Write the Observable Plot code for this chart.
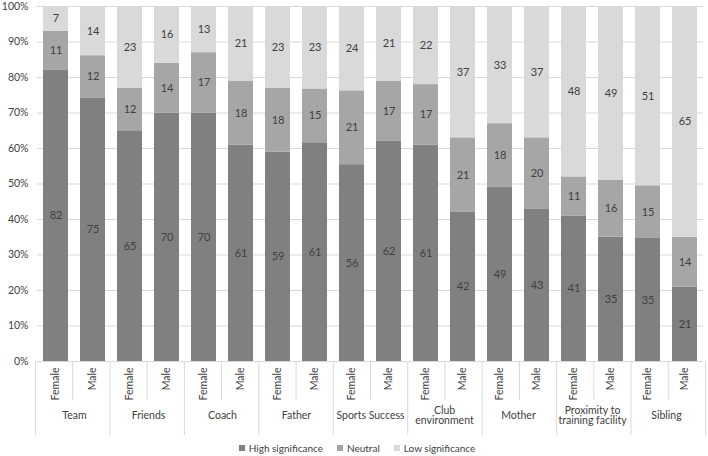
<!DOCTYPE html>
<html><head><meta charset="utf-8">
<script src="https://cdn.jsdelivr.net/npm/d3@7"></script>
<script src="https://cdn.jsdelivr.net/npm/@observablehq/plot@0.6"></script>
<style>
body{margin:0;background:#fff;font-family:Lato,"Open Sans",sans-serif;}
#legend{display:flex;justify-content:center;gap:14px;font-size:10px;color:#404040;height:16px;line-height:16px;padding-left:6px}
#legend span.item{display:inline-flex;align-items:center}
.sw{display:inline-block;width:6px;height:6px;margin-right:4px}
</style></head><body><div id="chart"></div><div id="legend"></div>
<script>
const categories = ["Team","Friends","Coach","Father","Sports Success","Club environment","Mother","Proximity to training facility","Sibling"];
const categoryTicks = ["Team","Friends","Coach","Father","Sports Success","Club\nenvironment","Mother","Proximity to\ntraining facility","Sibling"];
const sexes = ["Female","Male"];
const levels = ["High significance","Neutral","Low significance"];
const colors = ["#808080","#a6a6a6","#d9d9d9"];
// per bar: Team F, Team M, Friends F, Friends M, ...
const high    = [82,75,65,70,70,61,59,61,56,62,61,42,49,43,41,35,35,21];
const neutral = [11,12,12,14,17,18,18,15,21,17,17,21,18,20,11,16,15,14];
const low     = [7,14,23,16,13,21,23,23,24,21,22,37,33,37,48,49,51,65];

const rows = [];
categories.forEach((c,i)=>sexes.forEach((s,j)=>{
  const k=i*2+j;
  [high,neutral,low].forEach((arr,l)=>rows.push({cat:c,sex:s,level:levels[l],value:arr[k]}));
}));

const W=708,H=440,ML=35,MR=3,MT=6,MB=79;
const stack = o => Plot.stackY({offset:"normalize", x:"sex", y:"value", z:"level", fx:"cat", ...o});
const plot = Plot.plot({
  width:W,height:H,marginLeft:ML,marginRight:MR,marginTop:MT,marginBottom:MB,
  style:{fontFamily:"Lato, 'Open Sans', sans-serif", fontSize:"10.5px", color:"#404040", background:"#fff"},
  fx:{domain:categories,padding:0,axis:null,label:null},
  x:{domain:sexes,paddingInner:0.33,paddingOuter:0.165,axis:null,label:null},
  y:{domain:[0,1],axis:null,label:null},
  color:{domain:levels,range:colors},
  marks:[
    Plot.gridY({ticks:10, stroke:"#d9d9d9", strokeOpacity:1}),
    Plot.axisY({ticks:10,tickSize:0,tickFormat:d3.format(".0%"),tickPadding:9,label:null,fontSize:10.5}),
    Plot.barY(rows, stack({fill:"level"})),
    Plot.text(rows, stack({text:"value", fill:"#404040", fontSize:11})),
    Plot.axisX({anchor:"bottom", tickRotate:-90, tickSize:0, tickPadding:6, label:null}),
    Plot.text(categories, {fx:d=>d, text:(d,i)=>categoryTicks[i], frameAnchor:"bottom", dy:54, lineAnchor:"middle", fill:"#404040"})
  ]
});
document.getElementById("chart").appendChild(plot);

// multi-level axis separators, positioned from the fx band scale
const fxs = d3.scaleBand().domain(categories).range([ML, W-MR]).padding(0);
const y0 = H - MB;
const g = d3.select(plot).append("g").attr("stroke","#d9d9d9").attr("stroke-width",1);
const edges = categories.map(c=>fxs(c)).concat([fxs(categories[categories.length-1])+fxs.bandwidth()]);
edges.forEach(x=>g.append("line").attr("x1",x+0.5).attr("x2",x+0.5).attr("y1",y0).attr("y2",y0+74));
categories.forEach(c=>{const x=fxs(c)+fxs.bandwidth()/2; g.append("line").attr("x1",x+0.5).attr("x2",x+0.5).attr("y1",y0).attr("y2",y0+39);});

const leg = d3.select("#legend");
levels.forEach((l,i)=>{
  const it = leg.append("span").attr("class","item");
  it.append("span").attr("class","sw").style("background",colors[i]);
  it.append("span").text(l);
});
</script>
</body></html>
